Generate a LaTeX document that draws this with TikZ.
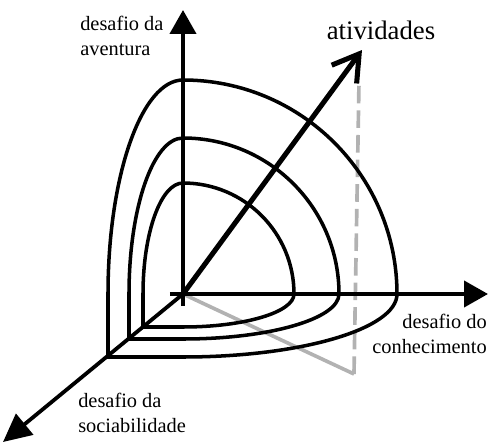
\documentclass[tikz,border=0pt]{standalone}
\usepackage{fontspec}
\setmainfont{Liberation Serif}
\usetikzlibrary{arrows.meta}

\definecolor{cinza}{gray}{0.7}

\begin{document}
\begin{tikzpicture}[
    x=0.025cm, y=0.025cm,
    rotulo/.style={font=\fontsize{14.5}{17.5}\selectfont, inner sep=0pt},
    eixo/.style={line width=2.7pt, -{Triangle[length=17pt,width=18.5pt]}},
    curva/.style={line width=2.5pt},
    projecao/.style={line width=2.6pt, draw=cinza},
    vetor/.style={line width=3.6pt, -{Straight Barb[length=18pt,width=22pt]}}
  ]
  \useasboundingbox (-183,-149) rectangle (306,294);

  % Pontos
  \coordinate (O) at (0,0);
  \coordinate (xini) at (-13,0);
  \coordinate (yini) at (0,-12);
  \coordinate (xfim) at (305,0);
  \coordinate (yfim) at (0,284);
  \coordinate (zfim) at (-180,-148);
  \coordinate (vfim) at (179,244);
  \coordinate (chao) at (171,-80);
  \coordinate (topo) at (176,212);

  % Rotulos
  \node (aventura) [rotulo, anchor=west, align=left] at (-103,258) {desafio da\\aventura};
  \node (conhecimento) [rotulo, anchor=east, align=right] at (304,-40) {desafio do\\conhecimento};
  \node (sociabilidade) [rotulo, anchor=west, align=left] at (-105,-119) {desafio da\\sociabilidade};
  \node (atividades) [font=\fontsize{19}{22}\selectfont, inner sep=0pt, anchor=base] at (198,255) {atividades};

  % Projecao
  \draw [projecao] (O) -- (chao);
  \draw [projecao, dash pattern=on 12.5pt off 5pt] (chao) -- (topo);

  % Curvas
  \draw [curva] (-75,-63) -- (-75,0) arc[start angle=180, end angle=90, x radius=75, y radius=214]
    arc[start angle=90, end angle=0, radius=214]
    arc[start angle=0, end angle=-90, x radius=214, y radius=63] -- cycle;
  \draw [curva] (-54,-45) -- (-54,0) arc[start angle=180, end angle=90, x radius=54, y radius=156]
    arc[start angle=90, end angle=0, radius=156]
    arc[start angle=0, end angle=-90, x radius=156, y radius=45] -- cycle;
  \draw [curva] (-40,-33) -- (-40,0) arc[start angle=180, end angle=90, x radius=40, y radius=111]
    arc[start angle=90, end angle=0, radius=111]
    arc[start angle=0, end angle=-90, x radius=111, y radius=33] -- cycle;

  % Eixos
  \draw [eixo] (xini) -- (xfim);
  \draw [eixo] (yini) -- (yfim);
  \draw [eixo, -{Triangle[length=20pt,width=19pt]}] (O) -- (zfim);
  \draw [vetor] (O) -- (vfim);

\end{tikzpicture}
\end{document}
